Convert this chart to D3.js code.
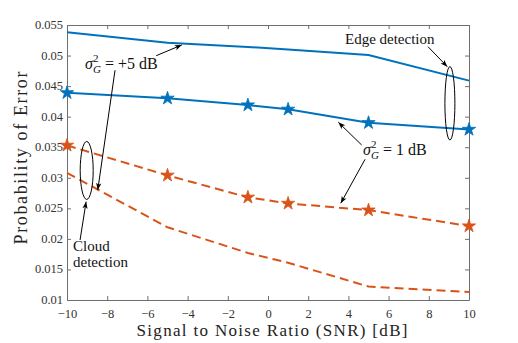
<!DOCTYPE html>
<html><head><meta charset="utf-8">
<script src="https://cdn.jsdelivr.net/npm/d3@7"></script>
<style>body{margin:0;background:#fff}svg{display:block}svg text{font-family:"Liberation Serif","Times New Roman",Times,"DejaVu Serif","Noto Serif",serif !important}</style>
</head><body><svg id="c" width="518" height="343"></svg>
<script>
const snr = [-10, -5, -1, 1, 5, 10];
const edge5 = [0.0538, 0.0521, 0.0514, 0.0510, 0.0501, 0.0459];
const edge1 = [0.0439, 0.0430, 0.0419, 0.0412, 0.0390, 0.0379];
const cloud1 = [0.0353, 0.0304, 0.0268, 0.0258, 0.0247, 0.0221];
const cloud5 = [0.0308, 0.0219, 0.0177, 0.0161, 0.0122, 0.0113];
const xTicks = [-10, -8, -6, -4, -2, 0, 2, 4, 6, 8, 10];
const yTicks = [0.01, 0.015, 0.02, 0.025, 0.03, 0.035, 0.04, 0.045, 0.05, 0.055];
const yTickLabels = ["0.01","0.015","0.02","0.025","0.03","0.035","0.04","0.045","0.05","0.055"];

const W = 518, H = 343, m = {l: 67, t: 25, r: 49, b: 43};
const svg = d3.select("#c");
const x = d3.scaleLinear().domain([-10, 10]).range([m.l, W - m.r]);
const y = d3.scaleLinear().domain([0.01, 0.055]).range([H - m.b, m.t]);
const blue = "#0072BD", orange = "#D95319", axc = "#6e6e6e";
const FF = "'Liberation Serif','Times New Roman',Times,'DejaVu Serif',serif";

svg.append("defs").append("marker").attr("id", "ah").attr("viewBox", "0 0 10 10")
  .attr("refX", 10).attr("refY", 5).attr("markerWidth", 7).attr("markerHeight", 7)
  .attr("markerUnits", "userSpaceOnUse").attr("orient", "auto")
  .append("path").attr("d", "M0,1.2 L10,5 L0,8.8 L2.5,5 Z").attr("fill", "#000");

// axes box
const gx = svg.append("g").attr("transform", `translate(0,${H - m.b})`)
  .call(d3.axisBottom(x).tickValues(xTicks).tickSizeInner(-4).tickSizeOuter(0).tickPadding(9));
const gxt = svg.append("g").attr("transform", `translate(0,${m.t})`)
  .call(d3.axisTop(x).tickValues(xTicks).tickSizeInner(-4).tickSizeOuter(0).tickFormat(""));
const gy = svg.append("g").attr("transform", `translate(${m.l},0)`)
  .call(d3.axisLeft(y).tickValues(yTicks).tickSizeInner(-4).tickSizeOuter(0).tickPadding(4)
    .tickFormat((d, i) => yTickLabels[i]));
const gyr = svg.append("g").attr("transform", `translate(${W - m.r},0)`)
  .call(d3.axisRight(y).tickValues(yTicks).tickSizeInner(-4).tickSizeOuter(0).tickFormat(""));
[gx, gxt, gy, gyr].forEach(g => {
  g.attr("font-family", FF);
  g.selectAll("path,line").attr("stroke", axc).attr("stroke-width", 1);
  g.selectAll("text").attr("fill", "#333").attr("font-size", 12.5).attr("font-family", FF);
});
gy.selectAll("text").attr("dy", "0.28em");

const line = d3.line().x((d, i) => x(snr[i])).y(d => y(d));
const series = [
  {v: edge5, c: blue, dash: null, star: false},
  {v: edge1, c: blue, dash: null, star: true},
  {v: cloud1, c: orange, dash: "9,5", star: true},
  {v: cloud5, c: orange, dash: "9,5", star: false}
];
series.forEach(s => {
  svg.append("path").attr("d", line(s.v)).attr("fill", "none").attr("stroke", s.c)
    .attr("stroke-width", 2).attr("stroke-dasharray", s.dash);
  if (s.star) {
    svg.append("g").selectAll("path").data(s.v).join("path")
      .attr("d", d3.symbol(d3.symbolStar, 55))
      .attr("transform", (d, i) => `translate(${x(snr[i])},${y(d)})`)
      .attr("fill", s.c).attr("stroke", s.c).attr("stroke-width", 0.8);
  }
});

// axis labels
svg.append("text").attr("x", 272).attr("y", 336).attr("text-anchor", "middle").attr("font-family", FF)
  .attr("font-size", 17).attr("fill", "#222").attr("textLength", 271).attr("lengthAdjust", "spacing")
  .text("Signal to Noise Ratio (SNR) [dB]");
svg.append("text").attr("transform", "translate(27,158) rotate(-90)").attr("text-anchor", "middle").attr("font-family", FF)
  .attr("font-size", 18).attr("fill", "#222").attr("textLength", 173).attr("lengthAdjust", "spacing")
  .text("Probability of Error");

// annotations (data coordinates)
const arrows = [
  [[-5.56, 0.04998], [-4.29, 0.05173]],
  [[-7.61, 0.04760], [-8.47, 0.0280]],
  [[7.96, 0.05145], [8.92, 0.04818]],
  [[4.66, 0.03536], [3.50, 0.03908]],
  [[4.83, 0.03303], [3.62, 0.02583]],
  [[-9.35, 0.01982], [-9.05, 0.02609]]
];
arrows.forEach(a => svg.append("line")
  .attr("x1", x(a[0][0])).attr("y1", y(a[0][1])).attr("x2", x(a[1][0])).attr("y2", y(a[1][1]))
  .attr("stroke", "#000").attr("stroke-width", 1).attr("marker-end", "url(#ah)"));

const ellipses = [{cx: 9.05, cy: 0.04219, rx: 5, ry: 36.7}, {cx: -9.02, cy: 0.0312, rx: 6.5, ry: 29}];
ellipses.forEach(e => svg.append("ellipse").attr("cx", x(e.cx)).attr("cy", y(e.cy))
  .attr("rx", e.rx).attr("ry", e.ry).attr("fill", "none").attr("stroke", "#000").attr("stroke-width", 1));

function sigma(xd, yd, rest) {
  const t = svg.append("text").attr("x", x(xd)).attr("y", y(yd)).attr("font-size", 16)
    .attr("font-family", FF).attr("fill", "#111");
  t.append("tspan").attr("font-style", "italic").text("σ");
  t.append("tspan").attr("font-size", 11).attr("dy", -7).text("2");
  t.append("tspan").attr("font-size", 11).attr("font-style", "italic").attr("dx", -5.5).attr("dy", 11).text("G");
  t.append("tspan").attr("dy", -4).text(rest);
}
sigma(-9.10, 0.04772, " = +5 dB");
sigma(4.73, 0.03373, " = 1 dB");

const notes = [
  {t: "Edge detection", x: 3.83, y: 0.05184},
  {t: "Cloud", x: -9.7, y: 0.01807},
  {t: "detection", x: -9.7, y: 0.01545}
];
notes.forEach(n => svg.append("text").attr("x", x(n.x)).attr("y", y(n.y)).attr("font-size", 15)
  .attr("font-family", FF).attr("fill", "#111").text(n.t));
</script></body></html>
